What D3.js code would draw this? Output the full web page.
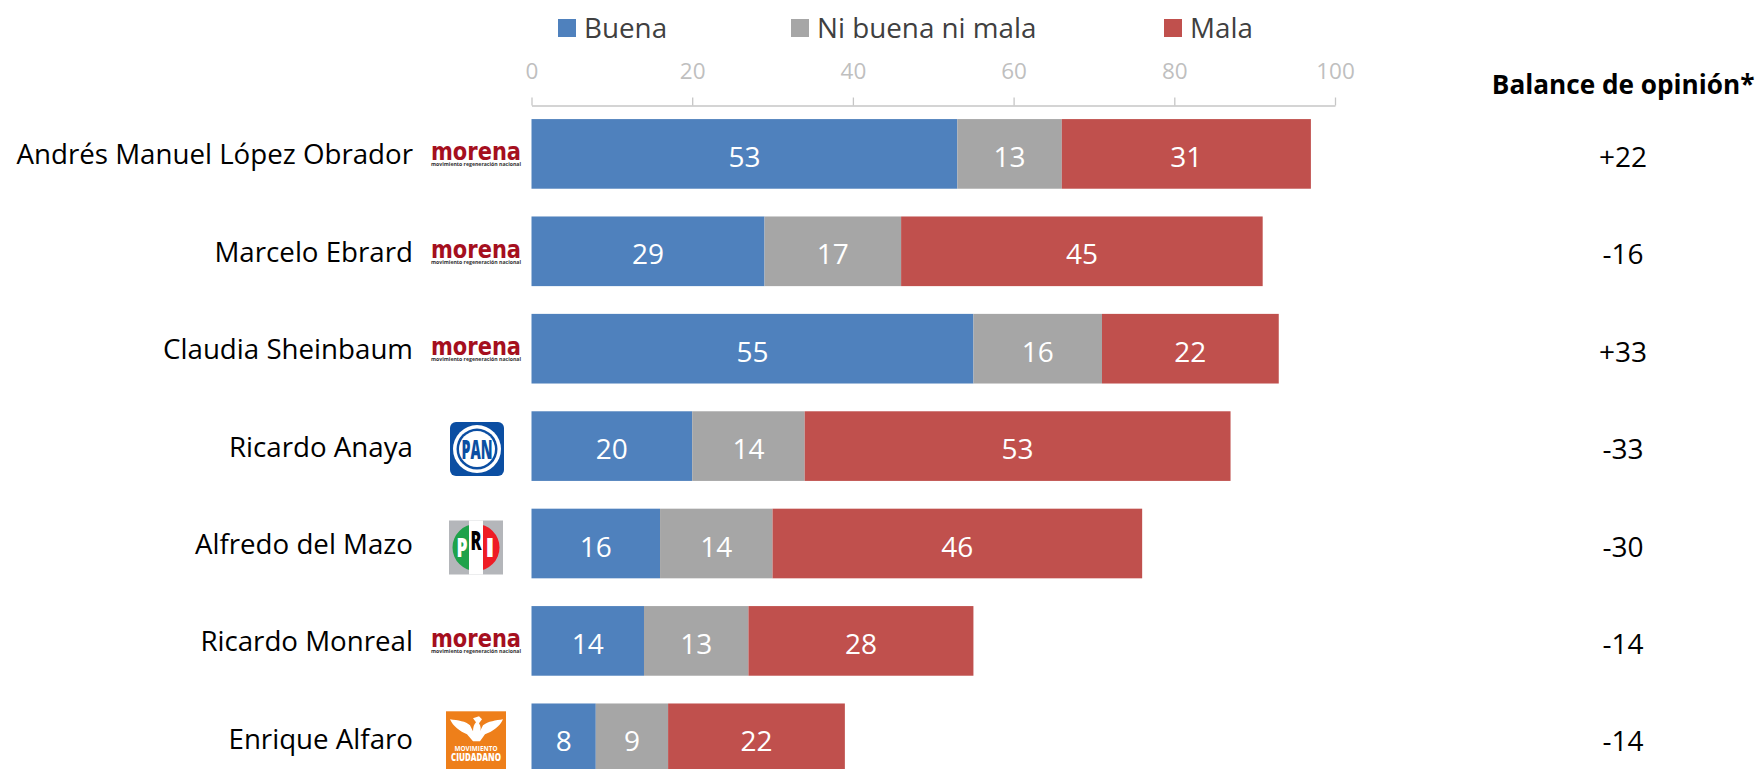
<!DOCTYPE html>
<html>
<head>
    <meta charset="utf-8">
    <title>Balance de opinión</title>
    <script src="https://d3js.org/d3.v7.min.js"></script>
    <style>
        html, body { margin: 0; padding: 0; background: #fff; overflow: hidden; }
        text { font-family: "Open Sans", "Noto Sans", sans-serif; }
    </style>
</head>
<body>
    <div id="viz"></div>
    <script>
        // data
        var names = ["Andrés Manuel López Obrador", "Marcelo Ebrard", "Claudia Sheinbaum", "Ricardo Anaya", "Alfredo del Mazo", "Ricardo Monreal", "Enrique Alfaro"];
        var parties = ["morena", "morena", "morena", "pan", "pri", "morena", "mc"];
        var buena = [53, 29, 55, 20, 16, 14, 8];
        var neutral = [13, 17, 16, 14, 14, 13, 9];
        var mala = [31, 45, 22, 53, 46, 28, 22];
        var balance = ["+22", "-16", "+33", "-33", "-30", "-14", "-14"];
        var seriesNames = ["Buena", "Ni buena ni mala", "Mala"];
        var seriesColors = ["#4f81bd", "#a6a6a6", "#c0504d"];
        var xTicks = [0, 20, 40, 60, 80, 100];

        var width = 1760, height = 769;

        var svg = d3.select("#viz").append("svg")
            .attr("width", width)
            .attr("height", height)
            .style("display", "block");

        var x = d3.scaleLinear().domain([0, 100]).range([531.5, 1335]);

        // 7 bands, 97.4px apart, the last one runs off the bottom of the page
        var y = d3.scaleBand()
            .domain(names)
            .range([105.2, 105.2 + 7 * 97.4])
            .paddingInner(0.285)
            .paddingOuter(0.1425);

        // Axis on top
        var axis = svg.append("g")
            .attr("transform", "translate(0,105.5)")
            .call(d3.axisTop(x).tickValues(xTicks).tickSize(8).tickPadding(19).tickSizeOuter(0));
        axis.selectAll("path, line").attr("stroke", "#c6c6c6").attr("stroke-width", 1.3);
        axis.selectAll("text")
            .attr("fill", "#bfbfbf")
            .style("font-size", "22.5px");

        // Stacked bars
        var rows = names.map(function (d, i) {
            return { name: d, Buena: buena[i], "Ni buena ni mala": neutral[i], Mala: mala[i] };
        });
        var stacked = d3.stack().keys(seriesNames)(rows);

        var groups = svg.append("g").selectAll("g")
            .data(stacked)
            .enter().append("g")
            .attr("fill", function (d, i) { return seriesColors[i]; });

        groups.selectAll("rect")
            .data(function (d) { return d; })
            .enter().append("rect")
            .attr("x", function (d) { return x(d[0]); })
            .attr("y", function (d) { return y(d.data.name); })
            .attr("width", function (d) { return x(d[1]) - x(d[0]); })
            .attr("height", y.bandwidth());

        groups.selectAll("text")
            .data(function (d) { return d; })
            .enter().append("text")
            .attr("x", function (d) { return (x(d[0]) + x(d[1])) / 2; })
            .attr("y", function (d) { return y(d.data.name) + y.bandwidth() / 2 + 3; })
            .attr("dy", "0.36em")
            .attr("text-anchor", "middle")
            .attr("fill", "#fff")
            .style("font-size", "28px")
            .text(function (d) { return d[1] - d[0]; });

        // Names
        svg.append("g").selectAll("text")
            .data(names)
            .enter().append("text")
            .attr("x", 413)
            .attr("y", function (d) { return y(d) + y.bandwidth() / 2 + 0.5; })
            .attr("dy", "0.36em")
            .attr("text-anchor", "end")
            .attr("fill", "#000")
            .style("font-size", "27.7px")
            .text(function (d) { return d; });

        // Balance column
        svg.append("text")
            .attr("x", 1754.5)
            .attr("y", 85)
            .attr("dy", "0.36em")
            .attr("text-anchor", "end")
            .attr("fill", "#000")
            .style("font-size", "26.2px")
            .style("font-weight", "700")
            .text("Balance de opinión*");

        svg.append("g").selectAll("text")
            .data(balance)
            .enter().append("text")
            .attr("x", 1623)
            .attr("y", function (d, i) { return y(names[i]) + y.bandwidth() / 2 + 3; })
            .attr("dy", "0.36em")
            .attr("text-anchor", "middle")
            .attr("fill", "#000")
            .style("font-size", "28px")
            .text(function (d) { return d; });

        // Legend
        var legendX = d3.scaleOrdinal().domain(seriesNames).range([558, 791, 1164]);
        var legend = svg.append("g").selectAll("g")
            .data(seriesNames)
            .enter().append("g")
            .attr("transform", function (d) { return "translate(" + legendX(d) + ",19)"; });
        legend.append("rect")
            .attr("width", 18)
            .attr("height", 18)
            .attr("fill", function (d, i) { return seriesColors[i]; });
        legend.append("text")
            .attr("x", 26)
            .attr("y", 9)
            .attr("dy", "0.36em")
            .attr("fill", "#404040")
            .style("font-size", "27.8px")
            .text(function (d) { return d; });

        // Party logos, drawn small next to the names
        function drawMorena(g) {
            g.append("text").attr("x", 0).attr("y", 8)
                .attr("text-anchor", "middle").attr("fill", "#a50f1e")
                .style("font-size", "25px").style("font-weight", "800")
                .style("font-family", "'DejaVu Sans', sans-serif")
                .attr("textLength", 90).attr("lengthAdjust", "spacingAndGlyphs")
                .text("morena");
            g.append("text").attr("x", 0).attr("y", 14)
                .attr("text-anchor", "middle").attr("fill", "#333")
                .style("font-size", "6px").style("font-weight", "700")
                .attr("textLength", 90).attr("lengthAdjust", "spacingAndGlyphs")
                .text("movimiento regeneración nacional");
        }
        function drawPan(g) {
            g.append("rect").attr("x", -27).attr("y", -27).attr("width", 54).attr("height", 54).attr("rx", 6).attr("fill", "#0b4ea2");
            g.append("circle").attr("r", 24).attr("fill", "#fff");
            g.append("circle").attr("r", 20.5).attr("fill", "#0b4ea2");
            g.append("circle").attr("r", 18).attr("fill", "#fff");
            g.append("text").attr("y", 0).attr("dy", "0.36em")
                .attr("text-anchor", "middle").attr("fill", "#0b4ea2")
                .style("font-size", "27px").style("font-weight", "800")
                .attr("textLength", 31).attr("lengthAdjust", "spacingAndGlyphs")
                .text("PAN");
        }
        function drawPri(g) {
            g.append("rect").attr("x", -27).attr("y", -27).attr("width", 54).attr("height", 54).attr("fill", "#b4b6ba");
            g.append("path").attr("d", d3.arc()({ innerRadius: 0, outerRadius: 23.5, startAngle: -Math.PI, endAngle: 0 }))
                .attr("fill", "#1fa24a");
            g.append("path").attr("d", d3.arc()({ innerRadius: 0, outerRadius: 23.5, startAngle: 0, endAngle: Math.PI }))
                .attr("fill", "#ee1c25");
            g.append("rect").attr("x", -7).attr("y", -27).attr("width", 14).attr("height", 54).attr("fill", "#fff");
            var letters = ["P", "R", "I"], colors = ["#fff", "#000", "#fff"], dx = [-14, 0, 14], dyy = [0, -7, 0];
            letters.forEach(function (l, i) {
                var t = g.append("text").attr("x", dx[i]).attr("y", dyy[i]).attr("dy", "0.36em")
                    .attr("text-anchor", "middle").attr("fill", colors[i])
                    .style("font-size", "27px").style("font-weight", "800")
                    .text(l);
                if (i < 2) t.attr("textLength", 11).attr("lengthAdjust", "spacingAndGlyphs");
            });
        }
        function drawMc(g) {
            g.append("rect").attr("x", -30).attr("y", -27).attr("width", 60).attr("height", 60).attr("fill", "#ee7f1a");
            // bird
            g.append("path")
                .attr("d", "M-26,-19 C-18,-18 -10,-17 -6,-13 L-3,-7 C-3,-11 -2,-14 0,-16 L-3,-20 L3,-22 L6,-19 L3,-15 C5,-12 5,-9 4,-7 L7,-13 C12,-17 20,-18 27,-19 C24,-12 17,-7 9,-4 L4,3 L-3,3 L-9,-4 C-16,-7 -23,-12 -26,-19 Z")
                .attr("fill", "#fff");
            g.append("text").attr("y", 13).attr("text-anchor", "middle").attr("fill", "#fff")
                .style("font-size", "7.5px").style("font-weight", "700")
                .attr("textLength", 43).attr("lengthAdjust", "spacingAndGlyphs")
                .text("MOVIMIENTO");
            g.append("text").attr("y", 23).attr("text-anchor", "middle").attr("fill", "#fff")
                .style("font-size", "10.5px").style("font-weight", "800")
                .attr("textLength", 50).attr("lengthAdjust", "spacingAndGlyphs")
                .text("CIUDADANO");
        }

        var logoDraw = { morena: drawMorena, pan: drawPan, pri: drawPri, mc: drawMc };
        var logoCenter = { morena: 476, pan: 477, pri: 476, mc: 476 };
        var logoShift = { morena: -1.5, pan: 3, pri: 4, mc: 0 };
        names.forEach(function (name, i) {
            var p = parties[i];
            var g = svg.append("g")
                .attr("transform", "translate(" + logoCenter[p] + "," + (y(name) + y.bandwidth() / 2 + logoShift[p]) + ")");
            logoDraw[p](g);
        });
    </script>
</body>
</html>
